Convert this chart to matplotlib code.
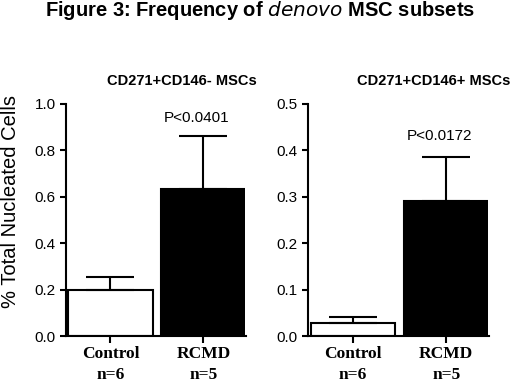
import numpy as np
import matplotlib
matplotlib.use('Agg')
import matplotlib.pyplot as plt

groups = ['Control', 'RCMD']
n_labels = ['n=6', 'n=5']
colors = ['white', 'black']

panel_titles = ['CD271+CD146- MSCs', 'CD271+CD146+ MSCs']
means_neg = [0.200, 0.635]
sem_neg = [0.053, 0.228]
means_pos = [0.027, 0.292]
sem_pos = [0.015, 0.094]
pvals = ['P<0.0401', 'P<0.0172']
ymax = [1.0, 0.5]
ystep = [0.2, 0.1]
p_y = [0.94, 0.43]

plt.rcParams['font.family'] = ['Liberation Sans', 'DejaVu Sans']

fig = plt.figure(figsize=(5.2, 3.83), dpi=100)
fig.text(0.5, 0.972, 'Figure 3: Frequency of $\\it{denovo}$ MSC subsets',
         ha='center', va='center', fontsize=14.5, fontweight='bold')

positions = [[0.127, 0.1227, 0.344, 0.6058], [0.593, 0.1227, 0.345, 0.6058]]
title_x = [0.65, 0.70]
data = [(means_neg, sem_neg), (means_pos, sem_pos)]
x = np.arange(len(groups))

for i, (m, s) in enumerate(data):
    ax = fig.add_axes(positions[i])
    ax.bar(x, m, width=0.91, color=colors, edgecolor='black', linewidth=1.5, zorder=2)
    ax.errorbar(x, m, yerr=[np.zeros(len(m)), s], fmt='none', ecolor='black',
                elinewidth=1.5, capsize=17, capthick=1.5, zorder=3)
    ax.set_xlim(-0.478, 1.446)
    ax.set_ylim(0, ymax[i])
    ax.set_yticks(np.arange(0, ymax[i] + 1e-9, ystep[i]))
    ax.yaxis.set_major_formatter(plt.FormatStrFormatter('%.1f'))
    ax.tick_params(axis='y', labelsize=11, width=1.5, length=4, direction='out')
    ax.set_xticks(x)
    ax.set_xticklabels([f'{g}\n{n}' for g, n in zip(groups, n_labels)],
                       fontsize=12.5, fontweight='bold', family='Liberation Serif',
                       linespacing=1.4)
    ax.tick_params(axis='x', width=1.5, length=5, direction='out', pad=2)
    for side in ['top', 'right']:
        ax.spines[side].set_visible(False)
    for side in ['left', 'bottom']:
        ax.spines[side].set_linewidth(1.5)
    ax.spines['bottom'].set_bounds(-0.478, 1.455)
    ax.text(0.93, p_y[i], pvals[i], ha='center', va='center', fontsize=11)
    ax.set_title(panel_titles[i], fontsize=10.5, fontweight='bold', pad=14, x=title_x[i])
    if i == 0:
        ax.set_ylabel('% Total Nucleated Cells', fontsize=14.5)
        ax.yaxis.set_label_coords(-0.255, 0.58)

fig.savefig('out.png', dpi=100)
